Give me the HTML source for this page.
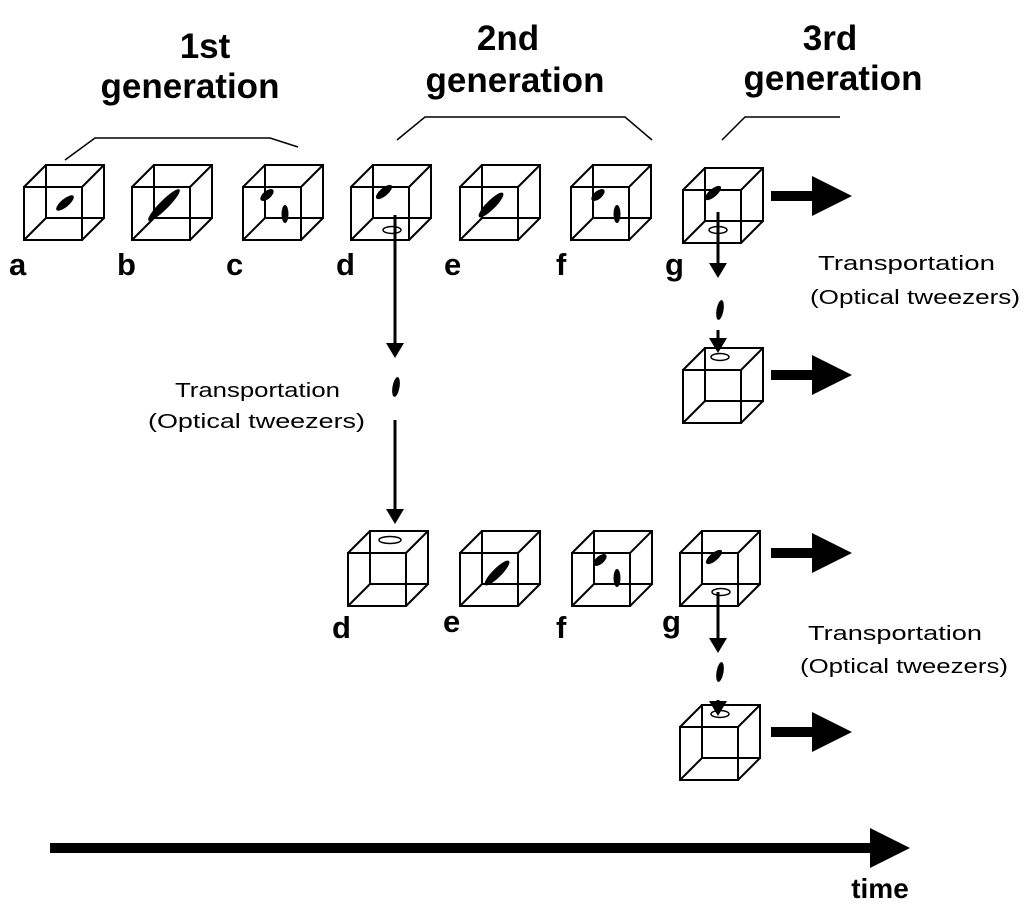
<!DOCTYPE html>
<html><head><meta charset="utf-8"><style>
body{margin:0;background:#fff;}
svg{display:block;}
text{font-family:"Liberation Sans",Arial,sans-serif;}
</style></head><body>
<svg width="1024" height="918" viewBox="0 0 1024 918" xmlns="http://www.w3.org/2000/svg">
<defs>
<g id="cube" fill="none" stroke="#000" stroke-width="2">
<rect x="22" y="0" width="58" height="53"/>
<rect x="0" y="22" width="58" height="53"/>
<line x1="0" y1="22" x2="22" y2="0"/><line x1="58" y1="22" x2="80" y2="0"/>
<line x1="0" y1="75" x2="22" y2="53"/><line x1="58" y1="75" x2="80" y2="53"/>
</g>
<g id="blob1"><ellipse cx="0" cy="0" rx="11" ry="4" fill="#000" transform="rotate(-40)"/></g>
<marker id="ah" markerWidth="4" markerHeight="4" refX="2" refY="2" orient="auto" markerUnits="strokeWidth"><path d="M0,0 L4,2 L0,4 z"/></marker>
<marker id="ah2" markerWidth="5" markerHeight="6" refX="3" refY="3" orient="auto" markerUnits="strokeWidth"><path d="M0,0 L5,3 L0,6 z"/></marker>
</defs>
<g font-size="35" text-anchor="middle" font-weight="bold">
<text x="205" y="58">1st</text>
<text x="190" y="98">generation</text>
<text x="508" y="50">2nd</text>
<text x="515" y="92">generation</text>
<text x="830" y="50">3rd</text>
<text x="833" y="90">generation</text>
</g>
<g fill="none" stroke="#000" stroke-width="1.5">
<polyline points="65,160 95,138 270,138 298,147"/>
<polyline points="397,140 425,117 625,117 652,140"/>
<polyline points="722,140 745,117 840,117"/>
</g>
<use href="#cube" x="24" y="165"/>
<use href="#cube" x="132" y="165"/>
<use href="#cube" x="243" y="165"/>
<use href="#cube" x="351" y="165"/>
<use href="#cube" x="460" y="165"/>
<use href="#cube" x="571" y="165"/>
<use href="#cube" x="683" y="168"/>
<use href="#blob1" transform="translate(65,203)"/>
<g transform="translate(164,205) rotate(-45)"><ellipse rx="22" ry="4.5"/></g>
<g transform="translate(267,195) rotate(-40)"><ellipse rx="8" ry="4"/></g>
<ellipse cx="285" cy="214" rx="3.5" ry="9"/>
<g transform="translate(384,192) rotate(-40)"><ellipse rx="10" ry="4"/></g>
<g transform="translate(491,205) rotate(-45)"><ellipse rx="17" ry="4.5"/></g>
<g transform="translate(598,195) rotate(-40)"><ellipse rx="8" ry="4"/></g>
<ellipse cx="617" cy="214" rx="3.5" ry="9"/>
<g transform="translate(713,193) rotate(-40)"><ellipse rx="10" ry="4"/></g>
<g font-size="31" font-weight="bold">
<text x="9" y="275">a</text><text x="117" y="275">b</text><text x="226" y="275">c</text><text x="336" y="275">d</text>
<text x="444" y="275">e</text><text x="556" y="275">f</text><text x="665" y="275">g</text>
</g>
<g stroke="#000" stroke-width="10" marker-end="url(#ah)">
<line x1="771" y1="196" x2="832" y2="196"/>
<line x1="771" y1="375" x2="832" y2="375"/>
<line x1="771" y1="553" x2="832" y2="553"/>
<line x1="771" y1="732" x2="832" y2="732"/>
<line x1="50" y1="848" x2="890" y2="848"/>
</g>
<ellipse cx="392" cy="230" rx="9" ry="3.5" fill="none" stroke="#000" stroke-width="1.5"/>
<g stroke="#000" stroke-width="3" marker-end="url(#ah2)">
<line x1="395" y1="215" x2="395" y2="352"/>
<line x1="395" y1="420" x2="395" y2="518"/>
<line x1="718" y1="212" x2="718" y2="272"/>
<line x1="718" y1="330" x2="718" y2="347"/>
<line x1="718" y1="592" x2="718" y2="647"/>
<line x1="718" y1="700" x2="718" y2="710"/>
</g>
<ellipse cx="396" cy="387" rx="3.5" ry="10" transform="rotate(10 396 387)"/>
<ellipse cx="720" cy="310" rx="3.5" ry="10" transform="rotate(10 720 310)"/>
<ellipse cx="720" cy="672" rx="3.5" ry="10" transform="rotate(10 720 672)"/>
<ellipse cx="718" cy="230" rx="9" ry="3.5" fill="none" stroke="#000" stroke-width="1.5"/>
<use href="#cube" x="683" y="348"/>
<ellipse cx="720" cy="357" rx="9" ry="3.5" fill="none" stroke="#000" stroke-width="1.5"/>
<g font-size="20" lengthAdjust="spacingAndGlyphs">
<text x="818" y="270" textLength="177" lengthAdjust="spacingAndGlyphs">Transportation</text>
<text x="810" y="304" textLength="210" lengthAdjust="spacingAndGlyphs">(Optical tweezers)</text>
<text x="175" y="397" textLength="165" lengthAdjust="spacingAndGlyphs">Transportation</text>
<text x="148" y="428" textLength="217" lengthAdjust="spacingAndGlyphs">(Optical tweezers)</text>
<text x="808" y="640" textLength="174" lengthAdjust="spacingAndGlyphs">Transportation</text>
<text x="800" y="673" textLength="208" lengthAdjust="spacingAndGlyphs">(Optical tweezers)</text>
</g>
<use href="#cube" x="348" y="531"/>
<use href="#cube" x="460" y="531"/>
<use href="#cube" x="572" y="531"/>
<use href="#cube" x="680" y="531"/>
<ellipse cx="390" cy="540" rx="11" ry="3.5" fill="none" stroke="#000" stroke-width="1.5"/>
<g transform="translate(497,573) rotate(-45)"><ellipse rx="17" ry="4.5"/></g>
<g transform="translate(600,560) rotate(-40)"><ellipse rx="8" ry="4"/></g>
<ellipse cx="617" cy="578" rx="3.5" ry="9"/>
<g transform="translate(714,557) rotate(-40)"><ellipse rx="10" ry="4"/></g>
<ellipse cx="721" cy="592" rx="9" ry="3.5" fill="none" stroke="#000" stroke-width="1.5"/>
<g font-size="31" font-weight="bold">
<text x="332" y="638">d</text><text x="443" y="632">e</text><text x="556" y="638">f</text><text x="662" y="632">g</text>
</g>
<use href="#cube" x="680" y="705"/>
<ellipse cx="720" cy="714" rx="9" ry="3.5" fill="none" stroke="#000" stroke-width="1.5"/>
<text x="880" y="898" font-size="28" font-weight="bold" text-anchor="middle">time</text>
</svg>
</body></html>
